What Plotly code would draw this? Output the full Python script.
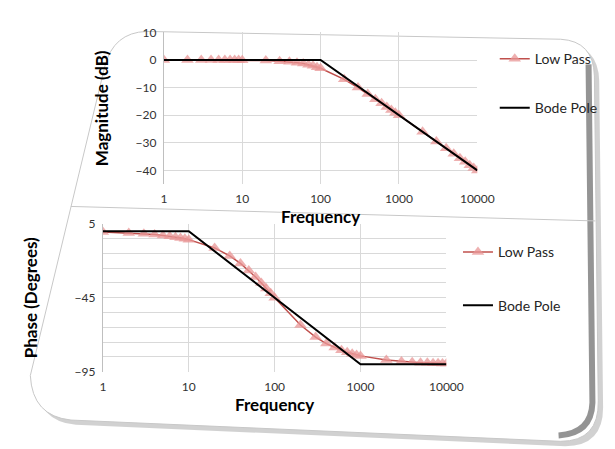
import plotly.graph_objects as go

# ---------------- data ----------------
freq = [1, 2, 3, 4, 5, 6, 7, 8, 9,
        10, 20, 30, 40, 50, 60, 70, 80, 90,
        100, 200, 300, 400, 500, 600, 700, 800, 900,
        1000, 2000, 3000, 4000, 5000, 6000, 7000, 8000, 9000,
        10000]
mag_low_pass = [0, 0, 0, 0, 0, 0, 0, 0, 0,
                -0.1, -0.2, -0.4, -0.6, -1.0, -1.3, -1.7, -2.1, -2.6,
                -3.0, -7.0, -10.0, -12.3, -14.2, -15.7, -17.0, -18.1, -19.1,
                -20.0, -26.0, -29.5, -32.0, -34.0, -35.6, -36.9, -38.1, -39.1,
                -40.0]
phase_low_pass = [-0.6, -1.2, -1.7, -2.3, -2.9, -3.4, -4.0, -4.6, -5.1,
                  -5.7, -11.3, -16.7, -21.8, -26.6, -31.0, -35.0, -38.7, -42.0,
                  -45.0, -63.4, -71.6, -76.0, -78.7, -80.5, -81.9, -82.9, -83.7,
                  -84.3, -87.1, -88.1, -88.6, -88.9, -89.0, -89.2, -89.3, -89.4,
                  -89.4]

bode_mag_freq = [1, 100, 10000]
bode_mag = [0, 0, -40]
bode_phase_freq = [1, 10, 1000, 10000]
bode_phase = [0, 0, -90, -90]

x_ticks = [1, 10, 100, 1000, 10000]
x_tick_text = ["1", "10", "100", "1000", "10000"]
mag_ticks = [10, 0, -10, -20, -30, -40]
phase_ticks = [5, -45, -95]

# ---------------- styling ----------------
W, H = 615, 449
FONT = "Lato"
LP_LINE = "#C0504D"
LP_MARK = "rgba(232,150,150,0.75)"
GRID = "#D9D9D9"
TICK_COL = "#333333"


def px(x, y):
    return x / W, 1 - y / H


def path(cmds):
    out = []
    for c in cmds:
        op, pts = c[0], c[1:]
        coords = " ".join("%.4f,%.4f" % px(*p) for p in pts)
        out.append(op + " " + coords if pts else op)
    return " ".join(out)


fig = go.Figure()

lp_marker = dict(symbol="triangle-up", size=11, color=LP_MARK,
                 line=dict(width=0))

fig.add_trace(go.Scatter(x=freq, y=mag_low_pass, name="Low Pass",
                         mode="lines+markers", line=dict(color=LP_LINE, width=1.5),
                         marker=lp_marker, xaxis="x", yaxis="y",
                         legend="legend", legendgroup="a"))
fig.add_trace(go.Scatter(x=bode_mag_freq, y=bode_mag, name="Bode Pole",
                         mode="lines", line=dict(color="black", width=2),
                         xaxis="x", yaxis="y", legend="legend", legendgroup="b"))
fig.add_trace(go.Scatter(x=freq, y=phase_low_pass, name="Low Pass",
                         mode="lines+markers", line=dict(color=LP_LINE, width=1.5),
                         marker=lp_marker, xaxis="x2", yaxis="y2",
                         legend="legend2", legendgroup="c"))
fig.add_trace(go.Scatter(x=bode_phase_freq, y=bode_phase, name="Bode Pole",
                         mode="lines", line=dict(color="black", width=2),
                         xaxis="x2", yaxis="y2", legend="legend2", legendgroup="d"))

tickfont = dict(family=FONT, size=12, color=TICK_COL)
titlefont = dict(family=FONT, size=17, color="black", weight="bold")

xcommon = dict(type="log", range=[0, 4], tickvals=x_ticks, ticktext=x_tick_text,
               showgrid=True, gridcolor=GRID, gridwidth=1, zeroline=False,
               showline=False, ticks="", tickfont=tickfont, ticklabelstandoff=6)

# card + shadow (decoration)
card = [("M", (140, 16)), ("L", (568, 24)), ("Q", (602, 26), (603, 62)),
        ("L", (607, 398)), ("Q", (608, 440), (568, 440)),
        ("L", (62, 418)), ("Q", (22, 414), (20, 372)),
        ("L", (97, 52)), ("Q", (106, 17), (140, 16)), ("Z",)]
shadow = [(c[0],) + tuple((p[0] + 5, p[1] + 5) for p in c[1:]) for c in card]

shapes = [
    dict(type="path", xref="paper", yref="paper", path=path(shadow),
         fillcolor="rgba(0,0,0,0.18)", line=dict(width=0), layer="below"),
    dict(type="path", xref="paper", yref="paper", path=path(card),
         fillcolor="white", line=dict(color="#C8C8C8", width=1), layer="below"),
    dict(type="path", xref="paper", yref="paper",
         path=path([("M", (597, 50)), ("L", (601, 400)), ("Q", (600, 432), (566, 434))]),
         line=dict(color="rgba(60,60,60,0.55)", width=6), layer="below"),
    dict(type="path", xref="paper", yref="paper",
         path=path([("M", (62, 197)), ("L", (604, 212))]),
         line=dict(color="#C8C8C8", width=1), layer="below"),
]

fig.update_layout(
    width=W, height=H,
    margin=dict(l=0, r=0, t=0, b=0),
    paper_bgcolor="white", plot_bgcolor="rgba(0,0,0,0)",
    font=dict(family=FONT, color=TICK_COL),
    shapes=shapes,
    xaxis=dict(xcommon, domain=[158 / W, 482 / W], anchor="y",
               title=dict(text="Frequency", font=titlefont, standoff=4)),
    yaxis=dict(domain=[1 - 174 / H, 1 - 17 / H], anchor="x", range=[-45, 10],
               tickvals=mag_ticks, showgrid=True, gridcolor=GRID, zeroline=False,
               showline=True, linecolor="#BFBFBF", ticks="", tickfont=tickfont,
               ticklabelstandoff=4,
               title=dict(text="Magnitude (dB)", font=titlefont, standoff=22)),
    xaxis2=dict(xcommon, domain=[95 / W, 450 / W], anchor="y2",
                title=dict(text="Frequency", font=titlefont, standoff=6)),
    yaxis2=dict(domain=[1 - 368 / H, 1 - 215 / H], anchor="x2", range=[-95, 5],
                tickvals=phase_ticks, showgrid=True, gridcolor=GRID, zeroline=False,
                minor=dict(tick0=5, dtick=10, showgrid=True, gridcolor=GRID),
                showline=True, linecolor="#BFBFBF", ticks="", tickfont=tickfont,
                ticklabelstandoff=4,
                title=dict(text="Phase (Degrees)", font=titlefont, standoff=32)),
    legend=dict(x=500 / W, y=1 - 28 / H, xanchor="left", yanchor="top",
                bgcolor="rgba(0,0,0,0)", tracegroupgap=28, itemwidth=30,
                font=dict(family=FONT, size=14, color="#262626")),
    legend2=dict(x=462 / W, y=1 - 228 / H, xanchor="left", yanchor="top",
                 bgcolor="rgba(0,0,0,0)", tracegroupgap=32, itemwidth=30,
                 font=dict(family=FONT, size=14, color="#262626")),
)

fig.write_html("out.html")
